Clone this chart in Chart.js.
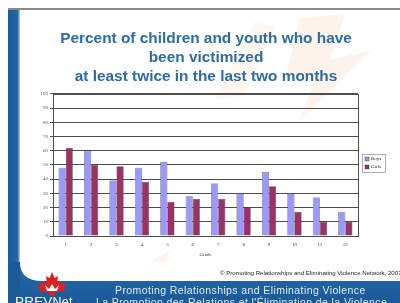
<!DOCTYPE html>
<html>
<head>
<meta charset="utf-8">
<script src="https://cdn.jsdelivr.net/npm/chart.js@4/dist/chart.umd.min.js"></script>
<style>
  html, body { margin: 0; padding: 0; background: #fff; }
  #slide { position: relative; width: 400px; height: 303px; overflow: hidden; background: #fff; font-family: "Liberation Sans", Arial, sans-serif; }
  #decor { position: absolute; left: 0; top: 0; }
  #chart { position: absolute; left: 0; top: 0; }
  .foot { position: absolute; white-space: nowrap; }
</style>
</head>
<body>
<div id="slide">
  <svg id="decor" width="400" height="303">
    <defs>
      <linearGradient id="stripe" x1="0" x2="1" y1="0" y2="0">
        <stop offset="0" stop-color="#1a5a99"/>
        <stop offset="0.8" stop-color="#2466a6"/>
        <stop offset="1" stop-color="#c9d8ee"/>
      </linearGradient>
      <linearGradient id="band" x1="0" x2="0" y1="0" y2="1">
        <stop offset="0" stop-color="#c9d8ee"/>
        <stop offset="0.15" stop-color="#2466a6"/>
        <stop offset="1" stop-color="#1a5a99"/>
      </linearGradient>
    </defs>
    <!-- faint background swooshes -->
    <polygon points="300,18 345,14 330,60 372,50 300,120 318,70 285,80" fill="#fdf3ea"/>
    <polygon points="215,100 255,22 275,26 245,95" fill="#fef7f0"/>
    <polygon points="150,262 170,250 165,262" fill="#fdf3ea"/>
    <!-- top rule -->
    <rect x="8" y="8" width="392" height="2" fill="#8a8a8a"/>
    <!-- left stripe -->
    <rect x="8" y="10" width="12" height="293" fill="url(#stripe)"/>
    <!-- bottom band -->
    <path d="M8,262 L20,262 Q20,281 42,281 L400,281 L400,303 L8,303 Z" fill="url(#band)"/>
    <rect x="8" y="262" width="12" height="41" fill="#1d5b98"/>
    <!-- maple leaf -->
    <path d="M52,272 L54.5,278 L58,276 L57,283 L61,281 L62,284 L67,285 L64,288 L65,292 L56,291 L55,296 L49,296 L48,291 L39,292 L40,288 L37,285 L42,284 L43,281 L47,283 L46,276 L49.5,278 Z" fill="#e0201b"/>
    <path d="M45,285 L49,289 L52,284 L55,289 L59,285 L57,291 L47,291 Z" fill="#ffffff"/>
  </svg>
  <canvas id="chart" width="400" height="303"></canvas>
  <div class="foot" style="left:220px; top:269px; font-size:6.1px; color:#222;">© Promoting Relationships and Eliminating Violence Network, 2007</div>
  <div class="foot" style="left:115px; top:284px; font-size:10.5px; letter-spacing:0.4px; color:#dde8f4;">Promoting Relationships and Eliminating Violence</div>
  <div class="foot" style="left:96px; top:296px; font-size:10.5px; letter-spacing:0.4px; color:#dde8f4;">La Promotion des Relations et l'Élimination de la Violence</div>
  <div class="foot" style="left:15px; top:294px; font-size:13.5px; color:#ffffff; letter-spacing:0.2px;">PREV<span style="font-size:12.5px">Net</span></div>
</div>

<script>
// chart values
const grades = ['1', '2', '3', '4', '5', '6', '7', '8', '9', '10', '11', '12'];
const boys = [48, 60, 39, 48, 52, 28, 37, 30, 45, 30, 27, 17];
const girls = [62, 50, 49, 38, 24, 26, 26, 20, 35, 17, 10, 10];
const titleLines = ['Percent of children and youth who have', 'been victimized', 'at least twice in the last two months'];
const axisTitle = 'Grade';

const gridColor = '#4d4d4d';

// frame round the plot area plus the boxed legend on the right
const framePlugin = {
  id: 'frame',
  afterLayout(chart) {
    // the slide title sits a little right of the plot centre
    chart.titleBlock.left += 12;
    chart.titleBlock.right += 12;
  },
  afterDatasetsDraw(chart) {
    const a = chart.chartArea;
    const ctx = chart.ctx;
    ctx.save();
    ctx.strokeStyle = gridColor;
    ctx.lineWidth = 1;
    ctx.strokeRect(Math.round(a.left) + 0.5, Math.round(a.top) + 0.5, Math.round(a.right - a.left), Math.round(a.bottom - a.top));
    ctx.restore();
  },
  afterDraw(chart) {
    const ctx = chart.ctx;
    const sets = chart.data.datasets;
    const x = 362, y = 154, w = 23, h = 18;
    ctx.save();
    ctx.fillStyle = '#fff';
    ctx.fillRect(x, y, w, h);
    ctx.strokeStyle = '#9a9a9a';
    ctx.lineWidth = 0.8;
    ctx.strokeRect(x + 0.5, y + 0.5, w, h);
    ctx.font = '5px "Liberation Serif", "Times New Roman", serif';
    ctx.textBaseline = 'middle';
    sets.forEach((ds, i) => {
      const ry = y + 5 + i * 8;
      ctx.fillStyle = ds.backgroundColor;
      ctx.fillRect(x + 3, ry - 2, 4, 4);
      ctx.strokeStyle = '#333';
      ctx.lineWidth = 0.4;
      ctx.strokeRect(x + 3, ry - 2, 4, 4);
      ctx.fillStyle = '#222';
      ctx.fillText(ds.label, x + 9, ry);
    });
    ctx.restore();
  }
};

new Chart(document.getElementById('chart').getContext('2d'), {
  type: 'bar',
  data: {
    labels: grades,
    datasets: [{
      label: 'Boys',
      data: boys,
      backgroundColor: '#9999ff',
      borderColor: '#333',
      borderWidth: 0.5
    }, {
      label: 'Girls',
      data: girls,
      backgroundColor: '#993366',
      borderColor: '#333',
      borderWidth: 0.5
    }]
  },
  options: {
    responsive: false,
    animation: false,
    categoryPercentage: 0.56,
    barPercentage: 1.0,
    layout: { padding: { left: 30, right: 42, top: 29, bottom: 45 } },
    plugins: {
      legend: { display: false },
      tooltip: { enabled: false },
      title: {
        display: true,
        text: titleLines,
        color: '#2d6ca5',
        font: { family: '"Liberation Sans", Arial, sans-serif', size: 15.4, weight: 'bold', lineHeight: 1.23 },
        padding: { top: 0, bottom: 8 }
      }
    },
    scales: {
      y: {
        min: 0,
        max: 100,
        ticks: {
          stepSize: 10,
          color: '#555',
          padding: 2,
          font: { family: '"Liberation Serif", serif', size: 5 }
        },
        grid: { color: gridColor, lineWidth: 1, tickLength: 3 },
        border: { color: gridColor },
        afterFit(scale) { scale.width = 23; }
      },
      x: {
        grid: { display: false, drawTicks: false },
        border: { color: gridColor },
        ticks: {
          color: '#333',
          padding: 6,
          font: { family: '"Liberation Serif", serif', size: 5 }
        },
        title: {
          display: true,
          text: axisTitle,
          color: '#333',
          padding: { top: 4, bottom: 0 },
          font: { family: '"Liberation Serif", serif', size: 5 }
        },
        afterFit(scale) { scale.height = 22; }
      }
    }
  },
  plugins: [framePlugin]
});
</script>
</body>
</html>
